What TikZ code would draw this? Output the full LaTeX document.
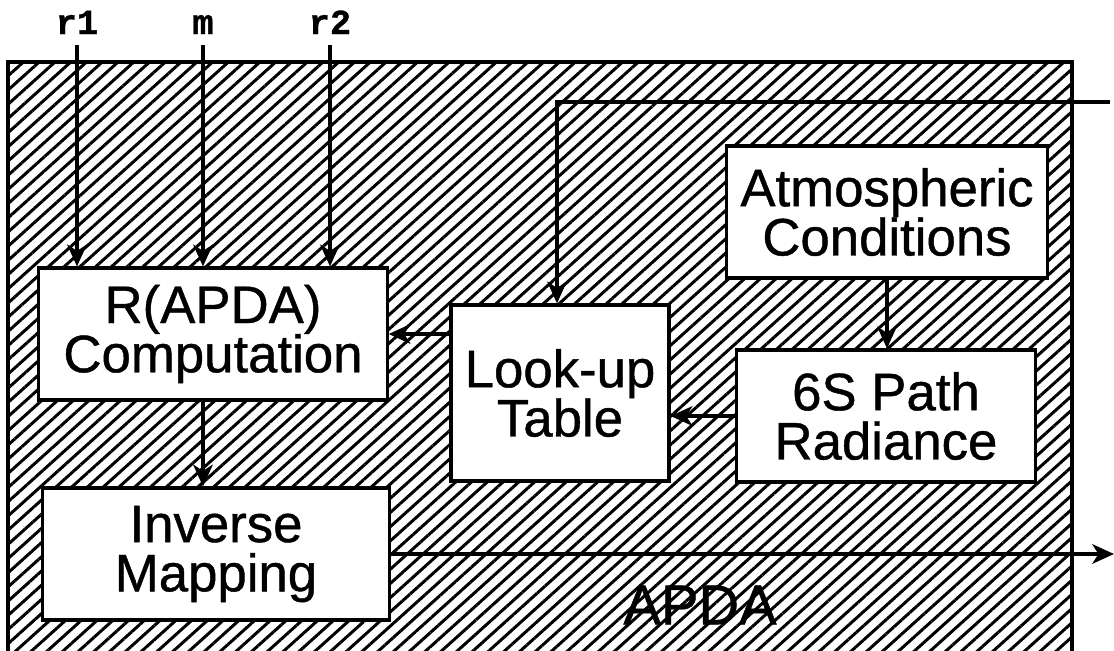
\documentclass[tikz,border=0pt]{standalone}
\usepackage{fontspec}
\setmainfont{Liberation Sans}[FakeBold=0.8]
\setmonofont{Liberation Mono}[FakeBold=1]
\usetikzlibrary{arrows.meta,patterns.meta}

\begin{document}
\begin{tikzpicture}[
    x=0.01cm, y=-0.01cm, % one unit = one pixel of the layout
    >={Stealth[length=6.2pt,width=5.6pt,inset=1.8pt]}, % filled arrow tips
    arr/.style={->, line width=0.9pt},
    block/.style={draw, line width=0.9pt, fill=white, inner sep=0pt,
        align=center, font=\fontsize{15}{14}\selectfont},
    inlabel/.style={font=\ttfamily\bfseries\fontsize{10}{10}\selectfont, inner sep=1pt, anchor=base},
    hatch/.style={pattern={Lines[angle=42,distance=3pt,line width=0.85pt]}}
]
    \useasboundingbox (0,0) rectangle (1114,651);
    \clip (0,0) rectangle (1114,651);

    % Hatched APDA frame (runs past the bottom of the page)
    \draw[hatch, line width=1.1pt] (8,62) rectangle (1072,700);
    \node[font=\fontsize{16}{16}\selectfont] (apda) at (700,605) {APDA};

    % Blocks
    \node[block, minimum width=3.48cm, minimum height=1.32cm] (cmp) at (213,334) {R(APDA)\\Computation};
    \node[block, minimum width=3.47cm, minimum height=1.32cm] (inv) at (216,554) {Inverse\\Mapping};
    \node[block, minimum width=2.18cm, minimum height=1.76cm] (lk) at (560,393) {Look-up\\Table};
    \node[block, minimum width=3.21cm, minimum height=1.32cm] (atm) at (887,212) {Atmospheric\\Conditions};
    \node[block, minimum width=2.98cm, minimum height=1.32cm] (sixs) at (886,416) {6S Path\\Radiance};

    % Inputs
    \node[inlabel] (r1) at (77,34) {r1};
    \node[inlabel] (m) at (203,34) {m};
    \node[inlabel] (r2) at (330,34) {r2};
    \foreach \n in {r1,m,r2}
        \draw[arr] (\n |- 0,45) -- (\n |- cmp.north);

    % Free ends
    \coordinate (fbin) at (1110,102);
    \coordinate (out) at (1114,0);

    % Connections
    \draw[arr] (fbin) -| ([xshift=-0.03cm]lk.north);
    \draw[arr] (atm.south) -- (atm.south |- sixs.north);
    \draw[arr] (sixs.west) -- (sixs.west -| lk.east);
    \draw[arr] (lk.west |- cmp.east) -- (cmp.east);
    \draw[arr] ([xshift=-0.1cm]cmp.south) -- ([xshift=-0.1cm]cmp.south |- inv.north);
    \draw[arr] (inv.east) -- (inv.east -| out);

\end{tikzpicture}
\end{document}
